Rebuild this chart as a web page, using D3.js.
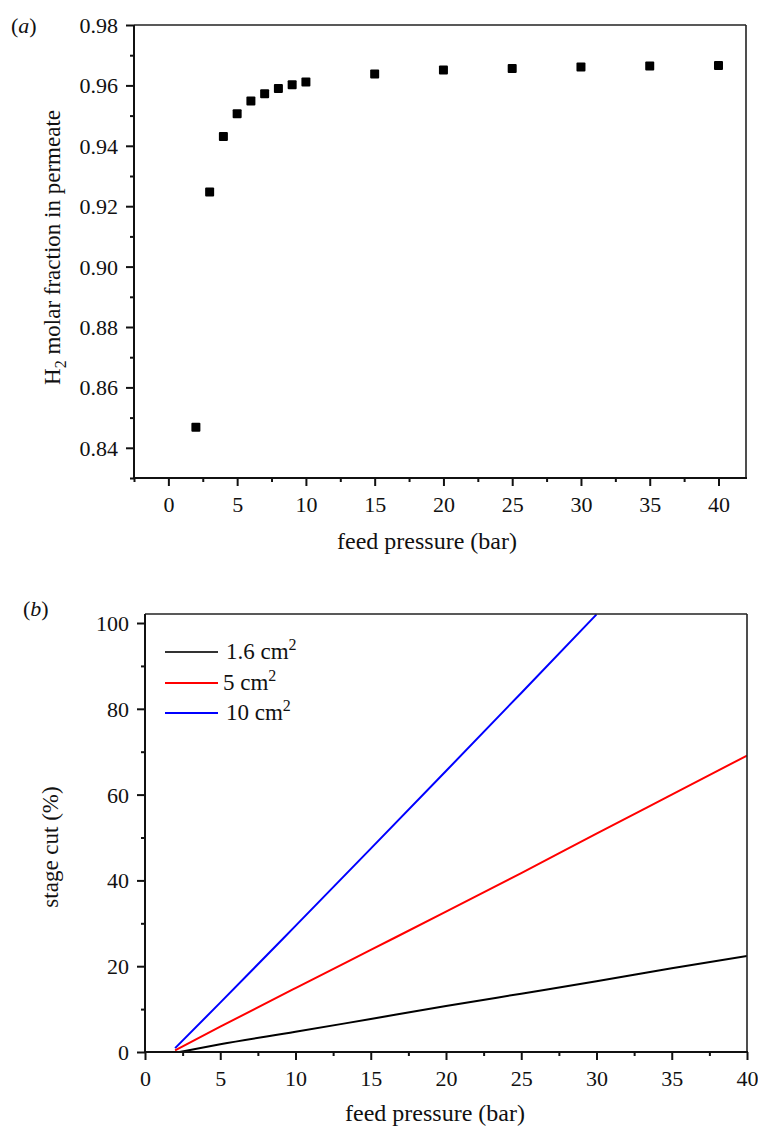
<!DOCTYPE html>
<html>
<head>
<meta charset="utf-8">
<script src="https://cdn.jsdelivr.net/npm/d3@7"></script>
<style>
  html, body { margin: 0; padding: 0; background: #fff; }
  svg { display: block; font-family: "Liberation Serif", "Times New Roman", serif; }
  .domain { display: none; }
</style>
</head>
<body>
<svg id="chart" width="758" height="1126"></svg>
<script>
// ---- Panel (a) data ----
const pressureA = [2, 3, 4, 5, 6, 7, 8, 9, 10, 15, 20, 25, 30, 35, 40];
const h2Fraction = [0.8468, 0.9247, 0.9431, 0.9506, 0.9548, 0.9572, 0.9590, 0.9602, 0.9611, 0.9638, 0.9651, 0.9656, 0.9661, 0.9664, 0.9666];
const xTicksA = [0, 5, 10, 15, 20, 25, 30, 35, 40];
const xMinorA = [-2.5, 2.5, 7.5, 12.5, 17.5, 22.5, 27.5, 32.5, 37.5];
const yTicksA = [0.84, 0.86, 0.88, 0.90, 0.92, 0.94, 0.96, 0.98];
const yMinorA = [0.83, 0.85, 0.87, 0.89, 0.91, 0.93, 0.95, 0.97];

// ---- Panel (b) data ----
const pressureB16 = [2.3, 5, 10, 15, 20, 25, 30, 35, 40];
const cut16 = [0.0, 1.8, 4.7, 7.7, 10.7, 13.6, 16.5, 19.5, 22.4];
const pressureB5 = [2, 5, 10, 15, 20, 25, 30, 35, 40];
const cut5 = [0.4, 5.9, 14.9, 23.8, 32.7, 41.7, 50.9, 60.0, 69.1];
const pressureB10 = [2, 5, 10, 15, 20, 25, 30];
const cut10 = [0.9, 11.5, 29.4, 47.4, 65.5, 83.7, 102.0];
const seriesNames = ["1.6", "5", "10"];
const seriesColors = ["#000000", "#ff0000", "#0000ff"];
const xTicksB = [0, 5, 10, 15, 20, 25, 30, 35, 40];
const xMinorB = [2.5, 7.5, 12.5, 17.5, 22.5, 27.5, 32.5, 37.5];
const yTicksB = [0, 20, 40, 60, 80, 100];
const yMinorB = [10, 30, 50, 70, 90];

const svg = d3.select("#chart");

function frame(g, L, T, R, B) {
  g.append("line").attr("x1", L).attr("x2", R).attr("y1", T).attr("y2", T).attr("stroke", "#222").attr("stroke-width", 1.6);
  g.append("line").attr("x1", R).attr("x2", R).attr("y1", T).attr("y2", B).attr("stroke", "#222").attr("stroke-width", 1.6);
  g.append("line").attr("x1", L).attr("x2", L).attr("y1", T).attr("y2", B + 1).attr("stroke", "#111").attr("stroke-width", 2);
  g.append("line").attr("x1", L - 1).attr("x2", R + 1).attr("y1", B).attr("y2", B).attr("stroke", "#111").attr("stroke-width", 2);
}

function axes(g, x, y, L, T, R, B, xt, xm, yt, ym, yfmt, fs) {
  const gx = g.append("g").attr("transform", `translate(0,${B})`)
    .call(d3.axisBottom(x).tickValues(xt).tickSize(8).tickPadding(6).tickFormat(d3.format("d")));
  const gxm = g.append("g").attr("transform", `translate(0,${B})`)
    .call(d3.axisBottom(x).tickValues(xm).tickSize(4).tickFormat(""));
  const gy = g.append("g").attr("transform", `translate(${L},0)`)
    .call(d3.axisLeft(y).tickValues(yt).tickSize(8).tickPadding(8).tickFormat(yfmt));
  const gym = g.append("g").attr("transform", `translate(${L},0)`)
    .call(d3.axisLeft(y).tickValues(ym).tickSize(4).tickFormat(""));
  [gx, gxm, gy, gym].forEach(a => {
    a.attr("font-family", null).attr("font-size", null);
    a.select(".domain").remove();
    a.selectAll("line").attr("stroke", "#111").attr("stroke-width", 2);
    a.selectAll("text").attr("fill", "#111").style("font-size", fs + "px")
      .style("font-family", '"Liberation Serif", serif');
  });
  gx.selectAll("text").attr("dy", "0.9em");
  gy.selectAll("text").attr("dy", "0.34em");
}

// ================= Panel (a) =================
{
  const L = 134, T = 25, R = 746, B = 478;
  const x = d3.scaleLinear().domain([-2.5, 42]).range([L, R]);
  const y = d3.scaleLinear().domain([0.83, 0.98]).range([B, T]);
  const g = svg.append("g");
  axes(g, x, y, L, T, R, B, xTicksA, xMinorA, yTicksA, yMinorA, d3.format(".2f"), 22);
  frame(g, L, T, R, B);

  const s = 9;
  g.append("g").selectAll("rect").data(pressureA.map((p, i) => [p, h2Fraction[i]]))
    .join("rect")
    .attr("x", d => x(d[0]) - s / 2).attr("y", d => y(d[1]) - s / 2)
    .attr("width", s).attr("height", s).attr("rx", 1)
    .attr("fill", "#000");

  g.append("text").attr("x", 427).attr("y", 549).attr("text-anchor", "middle")
    .style("font-size", "24px").attr("fill", "#111").text("feed pressure (bar)");

  const yt = g.append("text").attr("transform", `translate(60,${(T + B) / 2 - 4}) rotate(-90)`)
    .attr("text-anchor", "middle").style("font-size", "23px").attr("fill", "#111");
  yt.append("tspan").text("H");
  yt.append("tspan").attr("dy", 6).style("font-size", "16px").text("2");
  yt.append("tspan").attr("dy", -6).text(" molar fraction in permeate");

  const pl = g.append("text").attr("x", 11).attr("y", 33).style("font-size", "22px").attr("fill", "#111");
  pl.append("tspan").text("(");
  pl.append("tspan").style("font-style", "italic").text("a");
  pl.append("tspan").text(")");
}

// ================= Panel (b) =================
{
  const L = 145, T = 614, R = 747, B = 1052;
  const x = d3.scaleLinear().domain([0, 40]).range([L, R]);
  const y = d3.scaleLinear().domain([0, 102.1]).range([B, T]);
  const g = svg.append("g");

  svg.append("defs").append("clipPath").attr("id", "clipB")
    .append("rect").attr("x", L).attr("y", T).attr("width", R - L).attr("height", B - T);

  const line = d3.line().x(d => x(d[0])).y(d => y(d[1])).curve(d3.curveMonotoneX);
  const data = [
    pressureB16.map((p, i) => [p, cut16[i]]),
    pressureB5.map((p, i) => [p, cut5[i]]),
    pressureB10.map((p, i) => [p, cut10[i]])
  ];
  g.append("g").attr("clip-path", "url(#clipB)").selectAll("path").data(data).join("path")
    .attr("d", line).attr("fill", "none")
    .attr("stroke", (d, i) => seriesColors[i]).attr("stroke-width", 2);

  axes(g, x, y, L, T, R, B, xTicksB, xMinorB, yTicksB, yMinorB, d3.format("d"), 22);
  frame(g, L, T, R, B);

  // legend
  const lg = g.append("g");
  const legY = [652, 683, 713];
  seriesNames.forEach((n, i) => {
    lg.append("line").attr("x1", 165).attr("x2", 218).attr("y1", legY[i]).attr("y2", legY[i])
      .attr("stroke", i === 0 ? "#333" : seriesColors[i]).attr("stroke-width", 2);
    const t = lg.append("text").attr("x", i === 1 ? 223 : 226).attr("y", legY[i] + 7)
      .style("font-size", "23px").attr("fill", "#111");
    t.append("tspan").text(n + " cm");
    t.append("tspan").attr("dy", -9).style("font-size", "16px").text("2");
  });

  g.append("text").attr("x", 435).attr("y", 1121).attr("text-anchor", "middle")
    .style("font-size", "24px").attr("fill", "#111").text("feed pressure (bar)");

  g.append("text").attr("transform", `translate(58,${(T + B) / 2 + 14}) rotate(-90)`)
    .attr("text-anchor", "middle").style("font-size", "23px").attr("fill", "#111").text("stage cut (%)");

  const pl = g.append("text").attr("x", 23).attr("y", 616).style("font-size", "22px").attr("fill", "#111");
  pl.append("tspan").text("(");
  pl.append("tspan").style("font-style", "italic").text("b");
  pl.append("tspan").text(")");
}
</script>
</body>
</html>
